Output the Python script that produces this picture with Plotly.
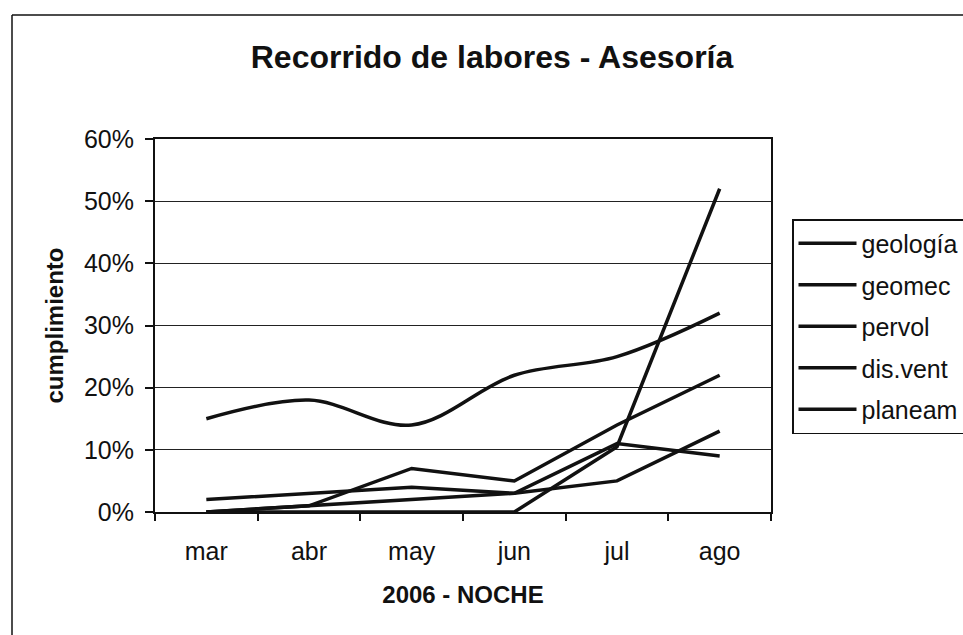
import plotly.graph_objects as go

# Monthly compliance (%) per inspection area, night shift 2006
meses = ["mar", "abr", "may", "jun", "jul", "ago"]
geologia = [15, 18, 14, 22, 25, 32]
geomec = [0, 1, 7, 5, 14, 22]
pervol = [2, 3, 4, 3, 5, 13]
dis_vent = [0, 0, 0, 0, 10.5, 52]
planeam = [0, 1, 2, 3, 11, 9]

series_names = ["geología", "geomec", "pervol", "dis.vent", "planeam"]
series_values = [geologia, geomec, pervol, dis_vent, planeam]
smoothed = ["geología"]

y_tick_vals = [0, 10, 20, 30, 40, 50, 60]
y_tick_text = ["0%", "10%", "20%", "30%", "40%", "50%", "60%"]

FONT = "Liberation Sans, Arial, sans-serif"

fig = go.Figure()
for name, vals in zip(series_names, series_values):
    fig.add_trace(go.Scatter(
        x=meses, y=vals, name=name, mode="lines", legendgroup=name,
        line=dict(color="#111111", width=3.5,
                  shape="spline" if name in smoothed else "linear",
                  smoothing=1.0),
        hovertemplate="%{x}: %{y}%<extra>" + name + "</extra>",
    ))

# plot area in pixels: x 155..771, y 139..512
L, R, T, B = 155, 771, 139, 512
W, H = 963, 635
pw, ph = R - L, B - T

def px_x(x):
    return (x - L) / pw

def px_y(y):
    return (B - y) / ph

fig.update_layout(
    width=W, height=H,
    margin=dict(l=L, r=W - R, t=T, b=H - B, autoexpand=False),
    paper_bgcolor="white", plot_bgcolor="white",
    font=dict(family=FONT, size=24, color="#111111"),
    title=dict(text="<b>Recorrido de labores - Asesoría</b>",
               x=(492) / W, xanchor="center", y=1 - 57 / H, yanchor="middle",
               font=dict(family=FONT, size=32, color="#111111")),
    showlegend=True,
    legend=dict(x=px_x(792), y=px_y(219), xanchor="left", yanchor="top",
                bordercolor="#111111", borderwidth=1.5, bgcolor="white",
                font=dict(family=FONT, size=25, color="#111111"),
                itemwidth=58, tracegroupgap=6, traceorder="grouped"),
    xaxis=dict(
        type="category", categoryorder="array", categoryarray=meses,
        range=[-0.5, len(meses) - 0.5],
        tickson="boundaries", ticks="outside", ticklen=7, tickwidth=1.5,
        tickcolor="#111111", showline=True, linecolor="#111111", linewidth=2,
        mirror=True, showgrid=False, ticklabelstandoff=16,
        tickfont=dict(family=FONT, size=25, color="#111111"),
        title=dict(text="<b>2006 - NOCHE</b>", standoff=22,
                   font=dict(family=FONT, size=24, color="#111111")),
    ),
    yaxis=dict(
        range=[0, 60], tickvals=y_tick_vals, ticktext=y_tick_text,
        ticks="outside", ticklen=8, tickwidth=1.5, tickcolor="#111111",
        showline=True, linecolor="#111111", linewidth=2, mirror=True,
        showgrid=True, gridcolor="#222222", gridwidth=1.3, zeroline=False,
        ticklabelstandoff=6,
        tickfont=dict(family=FONT, size=25, color="#111111"),
        title=dict(text="<b>cumplimiento</b>", standoff=14,
                   font=dict(family=FONT, size=24, color="#111111")),
    ),
    shapes=[
        # outer chart frame (left and top edges)
        dict(type="line", xref="paper", yref="paper",
             x0=px_x(12), x1=px_x(12), y0=px_y(H + 20), y1=px_y(15),
             line=dict(color="#111111", width=1.5)),
        dict(type="line", xref="paper", yref="paper",
             x0=px_x(12), x1=px_x(W + 20), y0=px_y(15), y1=px_y(15),
             line=dict(color="#111111", width=1.5)),
    ],
)

fig.write_html("out.html")
